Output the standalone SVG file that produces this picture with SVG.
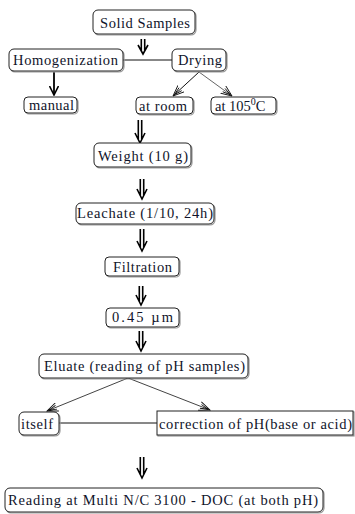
<svg xmlns="http://www.w3.org/2000/svg" width="355" height="514" viewBox="0 0 355 514">
<style>
.bx{fill:#fff;stroke:#222;stroke-width:1}
.sh{fill:none;stroke:#999;stroke-width:1.2}
.t{font-family:"Liberation Serif","Times New Roman",serif;font-size:14.5px;fill:#10142a}
.ln{fill:none;stroke:#111;stroke-width:1}
.dbl{fill:none;stroke:#000;stroke-width:1.6}
</style>
<defs>
<marker id="open" viewBox="0 0 12 10" refX="11" refY="5" markerWidth="12" markerHeight="10" markerUnits="userSpaceOnUse" orient="auto">
<path d="M0,0.5L11,5L0,9.5M1,3L9,5L1,7" fill="none" stroke="#111" stroke-width="0.9"/>
</marker>
<marker id="solid" viewBox="0 0 10 10" refX="9" refY="5" markerWidth="10" markerHeight="10" markerUnits="userSpaceOnUse" orient="auto">
<path d="M0,0.5L9,5L0,9.5" fill="none" stroke="#000" stroke-width="1.6"/>
</marker>
</defs>
<g id="connectors">
<line class="ln" x1="123" y1="60" x2="172" y2="60"/>
<line x1="54" y1="72" x2="54" y2="95" stroke="#000" stroke-width="1.8" marker-end="url(#solid)"/>
<line class="ln" x1="199" y1="72" x2="173" y2="96" marker-end="url(#open)"/>
<line x1="199" y1="72" x2="232" y2="96" stroke="#666" stroke-width="1" marker-end="url(#open)"/>
<line x1="128" y1="378" x2="47" y2="411" stroke="#444" stroke-width="1" marker-end="url(#open)"/>
<line x1="128" y1="378" x2="210" y2="410" stroke="#444" stroke-width="1" marker-end="url(#open)"/>
<line class="ln" x1="59" y1="423" x2="157" y2="423"/>
<path class="dbl" d="M141.3,39V51M144.7,39V51M138,45L143,54L148,45"/>
<path class="dbl" d="M138.3,120V140M141.7,120V140M135,133L140,143L145,133"/>
<path class="dbl" d="M140.3,179V196M143.7,179V196M137,189L142,199L147,189"/>
<path class="dbl" d="M140.3,229V248M143.7,229V248M137,241L142,251L147,241"/>
<path class="dbl" d="M139.3,286V302M142.7,286V302M136,295L141,305L146,295"/>
<path class="dbl" d="M139.3,331V348M142.7,331V348M136,341L141,351L146,341"/>
<path class="dbl" d="M140.3,457V475M143.7,457V475M137,468L142,478L147,468"/>
</g>
<g id="n-solid">
<rect class="sh" x="94" y="11" width="102" height="24" rx="5"/>
<rect class="bx" x="93" y="10" width="102" height="24" rx="5"/>
<text class="t" x="100" y="28" textLength="90" lengthAdjust="spacing">Solid Samples</text>
</g>
<g id="n-homog">
<rect class="sh" x="10" y="50" width="114" height="22" rx="5"/>
<rect class="bx" x="9" y="49" width="114" height="22" rx="5"/>
<text class="t" x="13" y="65" textLength="105" lengthAdjust="spacing">Homogenization</text>
</g>
<g id="n-drying">
<rect class="sh" x="173" y="50" width="54" height="22" rx="5"/>
<rect class="bx" x="172" y="49" width="54" height="22" rx="5"/>
<text class="t" x="178" y="65" textLength="44" lengthAdjust="spacing">Drying</text>
</g>
<g id="n-manual">
<rect class="sh" x="25" y="98" width="53" height="16" rx="4"/>
<rect class="bx" x="24" y="97" width="53" height="16" rx="4"/>
<text class="t" x="29" y="110" textLength="45" lengthAdjust="spacing">manual</text>
</g>
<g id="n-room">
<rect class="sh" x="137" y="98" width="57" height="17" rx="4"/>
<rect class="bx" x="136" y="97" width="57" height="17" rx="4"/>
<text class="t" x="139" y="111" textLength="48" lengthAdjust="spacing">at room</text>
</g>
<g id="n-105">
<rect class="sh" x="212" y="98" width="65" height="17" rx="4"/>
<rect class="bx" x="211" y="97" width="65" height="17" rx="4"/>
<text class="t" x="215" y="111">at 105<tspan font-size="10" dy="-6">0</tspan><tspan dy="6">C</tspan></text>
</g>
<g id="n-weight">
<rect class="sh" x="95" y="144" width="97" height="24" rx="5"/>
<rect class="bx" x="94" y="143" width="97" height="24" rx="5"/>
<text class="t" x="98" y="161" textLength="90" lengthAdjust="spacing">Weight (10 g)</text>
</g>
<g id="n-leach">
<rect class="sh" x="77" y="204" width="138" height="21" rx="5"/>
<rect class="bx" x="76" y="203" width="138" height="21" rx="5"/>
<text class="t" x="77" y="218" textLength="136" lengthAdjust="spacing">Leachate (1/10, 24h)</text>
</g>
<g id="n-filt">
<rect class="sh" x="106" y="258" width="74" height="19" rx="4"/>
<rect class="bx" x="105" y="257" width="74" height="19" rx="4"/>
<text class="t" x="113" y="272" textLength="59" lengthAdjust="spacing">Filtration</text>
</g>
<g id="n-045">
<rect class="sh" x="107" y="309" width="73" height="19" rx="4"/>
<rect class="bx" x="106" y="308" width="73" height="19" rx="4"/>
<text class="t" x="112" y="322" textLength="61" lengthAdjust="spacing">0.45 µm</text>
</g>
<g id="n-eluate">
<rect class="sh" x="40" y="355" width="209" height="24" rx="5"/>
<rect class="bx" x="39" y="354" width="209" height="24" rx="5"/>
<text class="t" x="44" y="371" textLength="201" lengthAdjust="spacing">Eluate (reading of pH samples)</text>
</g>
<g id="n-itself">
<rect class="sh" x="20" y="413" width="40" height="23" rx="5"/>
<rect class="bx" x="19" y="412" width="40" height="23" rx="5"/>
<text class="t" x="21" y="429" textLength="32" lengthAdjust="spacing">itself</text>
</g>
<g id="n-corr">
<rect class="sh" x="158" y="412" width="196" height="24"/>
<rect class="bx" x="157" y="411" width="196" height="24"/>
<text class="t" x="159" y="429" textLength="193" lengthAdjust="spacing">correction of pH(base or acid)</text>
</g>
<g id="n-reading">
<rect class="sh" x="6" y="489" width="318" height="24" rx="5"/>
<rect class="bx" x="5" y="488" width="318" height="24" rx="5"/>
<text class="t" x="8" y="505" textLength="310" lengthAdjust="spacing">Reading at Multi N/C 3100 - DOC (at both pH)</text>
</g>
</svg>
